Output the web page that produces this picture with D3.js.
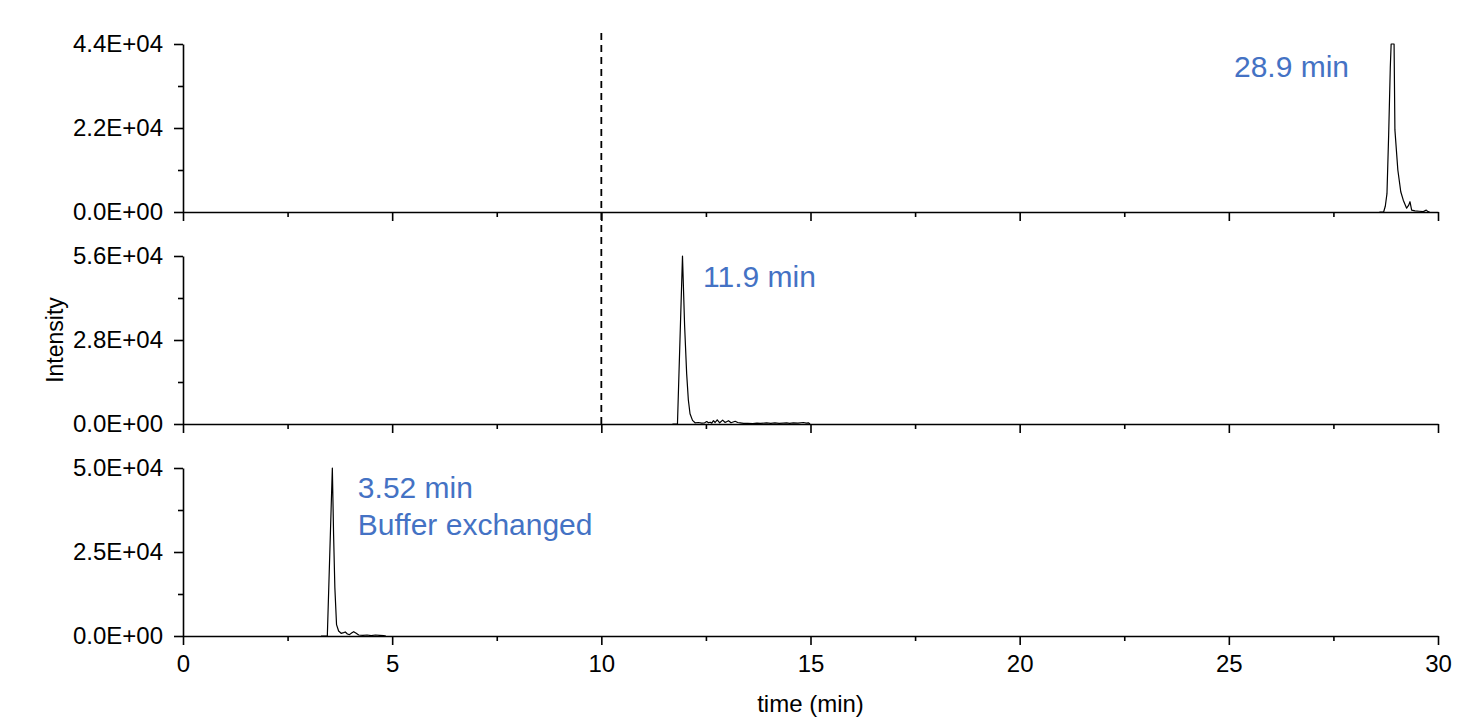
<!DOCTYPE html>
<html>
<head>
<meta charset="utf-8">
<script src="https://cdn.jsdelivr.net/npm/d3@7"></script>
<style>
    body { margin: 0; background: #fff; }
    text { font-family: "Liberation Sans", Arial, sans-serif; }
</style>
</head>
<body>
<svg id="chart" width="1459" height="720"></svg>
<script>

// Time axis
var timeDomain = [0, 30];
var timeTicks = [0, 5, 10, 15, 20, 25, 30];
var timeMinorTicks = [2.5, 7.5, 12.5, 17.5, 22.5, 27.5];

// Panel 1 (top): peak at 28.9 min
var time1 = [28.60, 28.70, 28.74, 28.78, 28.82, 28.86, 28.88, 28.95, 28.97, 29.04, 29.11, 29.17, 29.25, 29.30,
    29.33, 29.37, 29.45, 29.55, 29.65, 29.72, 29.76, 29.80];
var intensity1 = [0, 0, 1500, 4800, 20000, 38000, 44000, 44000, 21500, 11000, 5300, 3100, 1000, 1800,
    2700, 500, 300, 200, 100, 500, 100, 0];

// Panel 2 (middle): peak at 11.9 min
var time2 = [11.70, 11.82, 11.94, 11.99, 12.04, 12.08, 12.12, 12.18, 12.24, 12.32, 12.40, 12.47, 12.52, 12.56,
    12.60, 12.64, 12.68, 12.72, 12.77, 12.83, 12.90, 12.96, 13.04, 13.10, 13.20, 13.26, 13.32, 13.40, 13.50,
    13.62, 13.72, 13.80, 13.95, 14.05, 14.15, 14.25, 14.35, 14.43, 14.50, 14.59, 14.70, 14.83, 14.90, 14.95, 14.99];
var intensity2 = [0, 0, 56000, 33000, 16700, 8000, 3400, 1200, 400, 500, 300, 400, 800, 400,
    600, 300, 1100, 500, 1400, 400, 1300, 500, 1100, 400, 900, 500, 400, 200, 200,
    100, 300, 200, 400, 200, 400, 200, 300, 400, 200, 400, 300, 500, 300, 400, 0];

// Panel 3 (bottom): peak at 3.52 min, buffer exchanged
var time3 = [3.30, 3.45, 3.57, 3.60, 3.63, 3.67, 3.72, 3.78, 3.84, 3.88, 3.93, 3.98, 4.03, 4.08, 4.14,
    4.20, 4.30, 4.40, 4.50, 4.60, 4.70, 4.80, 4.85];
var intensity3 = [0, 0, 50000, 30000, 14400, 3400, 1500, 800, 1000, 1200, 600, 400, 900, 1300, 800,
    300, 200, 300, 100, 300, 200, 100, 0];

// Y axis maxima and annotations per panel
var yMax = [44000, 56000, 50000];
var annotations = [["28.9 min"], ["11.9 min"], ["3.52 min", "Buffer exchanged"]];
var annotationPos = [[28.95, 35300], [12.43, 45600], [4.18, 41000]];

var markerTime = 10;
var xTitle = "time (min)";
var yTitle = "Intensity";

var config = {
    left: 183,
    right: 1438,
    top: 44,
    panelHeight: 168,
    panelStep: 212,
    annotationColor: "#4472c4",
    fontSize: 24
};

var svg = d3.select("#chart");

var x = d3.scaleLinear().domain(timeDomain).range([config.left, config.right]);

/**
 * Format a value like "4.4E+04".
 * @param {number} v
 * @returns {string}
 */
function sciFormat(v) {
    var parts = v.toExponential(1).split("e");
    var exp = parseInt(parts[1], 10);
    var sign = exp < 0 ? "-" : "+";
    var digits = String(Math.abs(exp));
    if (digits.length < 2) digits = "0" + digits;
    return parts[0] + "E" + sign + digits;
}

/**
 * Draw one chromatogram panel.
 * @param {number} index - panel number from the top
 * @param {Array} times
 * @param {Array} values
 * @param {boolean} showLabels - only the bottom panel has tick labels
 */
function drawPanel(index, times, values, showLabels) {
    var top = config.top + index * config.panelStep;
    var bottom = top + config.panelHeight;
    var max = yMax[index];

    var y = d3.scaleLinear().domain([0, max]).range([bottom, top]);
    var g = svg.append("g").attr("class", "panel");

    // x axis, major and minor ticks pointing out
    var xAxis = d3.axisBottom(x).tickValues(timeTicks).tickSize(9).tickSizeOuter(0)
        .tickFormat(showLabels ? d3.format("d") : "");
    var xg = g.append("g").attr("transform", "translate(0," + bottom + ")").call(xAxis);
    g.append("g").attr("transform", "translate(0," + bottom + ")")
        .call(d3.axisBottom(x).tickValues(timeMinorTicks).tickSize(5).tickSizeOuter(0).tickFormat(""))
        .select(".domain").remove();

    // y axis
    var yAxis = d3.axisLeft(y).tickValues([0, max / 2, max]).tickSize(9).tickSizeOuter(0)
        .tickPadding(11).tickFormat(sciFormat);
    g.append("g").attr("transform", "translate(" + config.left + ",0)").call(yAxis);
    g.append("g").attr("transform", "translate(" + config.left + ",0)")
        .call(d3.axisLeft(y).tickValues([max / 4, max * 3 / 4]).tickSize(5).tickSizeOuter(0).tickFormat(""))
        .select(".domain").remove();

    g.selectAll(".domain, .tick line").attr("stroke", "#000").attr("stroke-width", 1.6);
    g.selectAll(".tick text")
        .attr("fill", "#000")
        .style("font-size", config.fontSize + "px");
    xg.selectAll(".tick text").attr("dy", "1.0em");

    // trace
    var line = d3.line()
        .x(function (d, i) { return x(times[i]); })
        .y(function (d) { return y(d); });
    g.append("path")
        .datum(values)
        .attr("d", line)
        .attr("fill", "none")
        .attr("stroke", "#000")
        .attr("stroke-width", 1.2)
        .attr("stroke-linejoin", "round");

    // annotation
    var pos = annotationPos[index];
    var label = g.append("text")
        .attr("x", x(pos[0]))
        .attr("y", y(pos[1]))
        .attr("fill", config.annotationColor)
        .style("font-size", "30px");
    if (index === 0) label.attr("text-anchor", "end").attr("x", x(pos[0]) - 45);
    annotations[index].forEach(function (txt, i) {
        label.append("tspan")
            .attr("x", label.attr("x"))
            .attr("dy", i === 0 ? 0 : 37)
            .text(txt);
    });

    return y;
}

drawPanel(0, time1, intensity1, false);
drawPanel(1, time2, intensity2, false);
drawPanel(2, time3, intensity3, true);

// dashed marker at 10 min across the two upper panels
svg.append("line")
    .attr("x1", x(markerTime)).attr("x2", x(markerTime))
    .attr("y1", 33)
    .attr("y2", config.top + config.panelStep + config.panelHeight + 2)
    .attr("stroke", "#000")
    .attr("stroke-width", 1.8)
    .attr("stroke-dasharray", "7,5");

// axis titles
svg.append("text")
    .attr("x", (config.left + config.right) / 2)
    .attr("y", 712)
    .attr("text-anchor", "middle")
    .style("font-size", config.fontSize + "px")
    .text(xTitle);

svg.append("text")
    .attr("transform", "translate(63," + (config.top + config.panelStep + config.panelHeight / 2) + ") rotate(-90)")
    .attr("text-anchor", "middle")
    .style("font-size", "23px")
    .text(yTitle);

</script>
</body>
</html>
